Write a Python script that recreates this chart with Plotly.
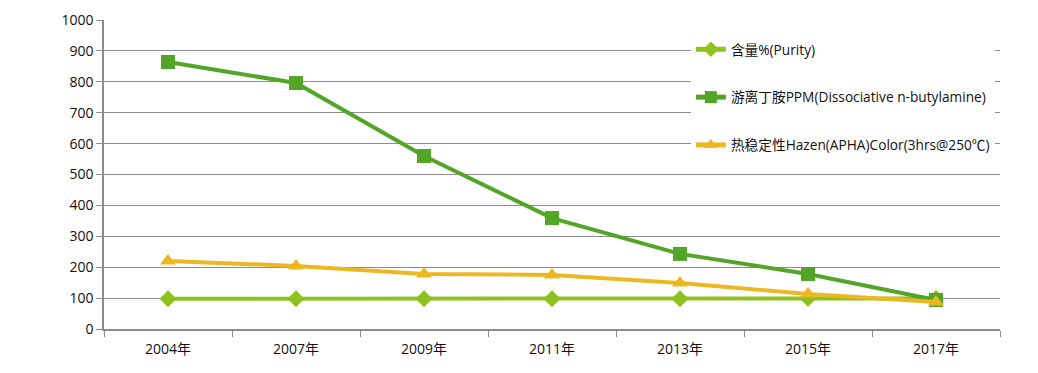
import plotly.graph_objects as go

years = ["2004年", "2007年", "2009年", "2011年", "2013年", "2015年", "2017年"]
purity = [98, 98, 98, 98, 98, 99, 99]
amine = [864, 796, 560, 359, 243, 178, 94]
color = [220, 204, 178, 175, 149, 113, 87]

names = ["含量%(Purity)", "游离丁胺PPM(Dissociative n-butylamine)", "热稳定性Hazen(APHA)Color(3hrs@250℃)"]

fig = go.Figure()
fig.add_trace(go.Scatter(x=years, y=purity, name=names[0], mode="lines+markers",
                         line=dict(color="#8DC21F", width=4),
                         marker=dict(symbol="diamond", size=13, color="#8DC21F"),
                         legendgroup="a"))
fig.add_trace(go.Scatter(x=years, y=amine, name=names[1], mode="lines+markers",
                         line=dict(color="#52A526", width=4),
                         marker=dict(symbol="square", size=14, color="#52A526"),
                         legendgroup="b"))
fig.add_trace(go.Scatter(x=years, y=color, name=names[2], mode="lines+markers",
                         line=dict(color="#EBB821", width=4),
                         marker=dict(symbol="triangle-up", size=14, color="#EBB821"),
                         legendgroup="c"))

font_fam = "Open Sans, Noto Sans CJK SC, sans-serif"
fig.update_layout(
    width=1038, height=373,
    margin=dict(l=96, r=46, t=12, b=52),
    paper_bgcolor="white", plot_bgcolor="white",
    font=dict(family=font_fam, size=13, color="#111"),
    showlegend=True,
    legend=dict(x=0.655, y=0.955, xanchor="left", yanchor="top",
                bgcolor="white", font=dict(size=13.7, color="#111"),
                tracegroupgap=27, traceorder="grouped", itemwidth=30,
                itemsizing="constant"),
    xaxis=dict(type="category", showgrid=False, showline=True, linecolor="#8c8c8c", linewidth=1.5,
               ticks="outside", tickson="boundaries", ticklen=6, tickcolor="#8c8c8c",
               tickfont=dict(size=14), range=[-0.5, 6.5], ticklabelstandoff=6, automargin=False),
    yaxis=dict(range=[0, 1000], dtick=100, showgrid=True, gridcolor="#8c8c8c", gridwidth=1.2,
               showline=True, linecolor="#8c8c8c", linewidth=1.5, ticks="outside", ticklen=6,
               tickcolor="#8c8c8c", tickfont=dict(size=14), zeroline=False, automargin=False),
)
fig.write_html("out.html")
